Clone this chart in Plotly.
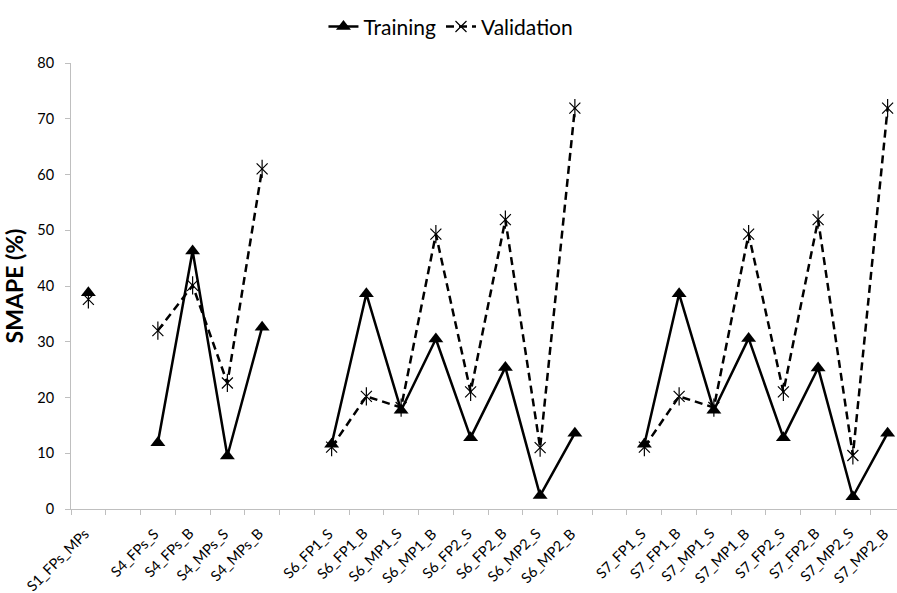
import plotly.graph_objects as go

# Scenario labels; whitespace-only entries are spacer slots between scenario groups
categories = [
    "S1_FPs_MPs", " ",
    "S4_FPs_S", "S4_FPs_B", "S4_MPs_S", "S4_MPs_B", "  ",
    "S6_FP1_S", "S6_FP1_B", "S6_MP1_S", "S6_MP1_B",
    "S6_FP2_S", "S6_FP2_B", "S6_MP2_S", "S6_MP2_B", "   ",
    "S7_FP1_S", "S7_FP1_B", "S7_MP1_S", "S7_MP1_B",
    "S7_FP2_S", "S7_FP2_B", "S7_MP2_S", "S7_MP2_B",
]

training = [
    38.8, None,
    11.9, 46.3, 9.5, 32.6, None,
    11.6, 38.6, 17.7, 30.5, 12.8, 25.4, 2.4, 13.6, None,
    11.6, 38.6, 17.7, 30.6, 12.8, 25.3, 2.2, 13.6,
]

validation = [
    37.6, None,
    32.0, 40.1, 22.6, 61.0, None,
    11.1, 20.2, 18.2, 49.3, 21.0, 51.9, 11.0, 71.9, None,
    11.1, 20.2, 18.2, 49.3, 21.0, 51.9, 9.6, 71.9,
]

y_ticks = [0, 10, 20, 30, 40, 50, 60, 70, 80]

FONT = "Lato, 'Open Sans', sans-serif"
AXIS_GREY = "#BFBFBF"

fig = go.Figure()

fig.add_trace(go.Scatter(
    x=categories, y=training, name="Training", mode="lines+markers",
    line=dict(color="black", width=2.5),
    marker=dict(symbol="triangle-up", size=13, color="black"),
    connectgaps=False,
))

fig.add_trace(go.Scatter(
    x=categories, y=validation, name="Validation", mode="lines+markers",
    line=dict(color="black", width=2.5, dash="8px,5px"),
    marker=dict(symbol="x-thin-open", size=11, color="black",
                line=dict(color="black", width=1.2)),
    connectgaps=False,
))

# vertical stroke completing the six-armed star marker
fig.add_trace(go.Scatter(
    x=categories, y=validation, mode="markers", showlegend=False,
    hoverinfo="skip",
    marker=dict(symbol="line-ns-open", size=13, color="black",
                line=dict(color="black", width=1.2)),
))

# category labels, slanted at 45 degrees and ending under their slot
for cat in categories:
    if not cat.strip():
        continue
    fig.add_annotation(
        x=cat, xref="x", y=0, yref="paper",
        text=cat, showarrow=False, textangle=-45,
        xanchor="right", yanchor="top", xshift=7, yshift=-13,
        font=dict(family=FONT, size=14.5, color="black"),
    )

fig.update_layout(
    width=897, height=593,
    margin=dict(l=71, r=0, t=63, b=84, autoexpand=False),
    paper_bgcolor="white", plot_bgcolor="white",
    font=dict(family=FONT, color="black", size=16),
    showlegend=True,
    legend=dict(orientation="h", x=0.46, xanchor="center", y=1.081,
                yanchor="middle", font=dict(size=21, color="black"),
                traceorder="normal"),
)

fig.update_xaxes(
    type="category", categoryorder="array", categoryarray=categories,
    range=[-0.5, len(categories) - 0.73],
    showline=True, linecolor=AXIS_GREY, linewidth=1,
    ticks="outside", tickson="boundaries", ticklen=5, tickcolor=AXIS_GREY,
    showticklabels=False,
    showgrid=False, zeroline=False,
)

fig.update_yaxes(
    range=[0, 80], tickvals=y_ticks,
    showline=True, linecolor=AXIS_GREY, linewidth=1,
    ticks="outside", ticklen=5, tickcolor=AXIS_GREY,
    ticklabelstandoff=8,
    tickfont=dict(size=14.5, color="black"),
    showgrid=False, zeroline=False,
    title=dict(text="<b>SMAPE (%)</b>", font=dict(size=23, color="black"),
               standoff=10),
)

fig.write_html("out.html")
